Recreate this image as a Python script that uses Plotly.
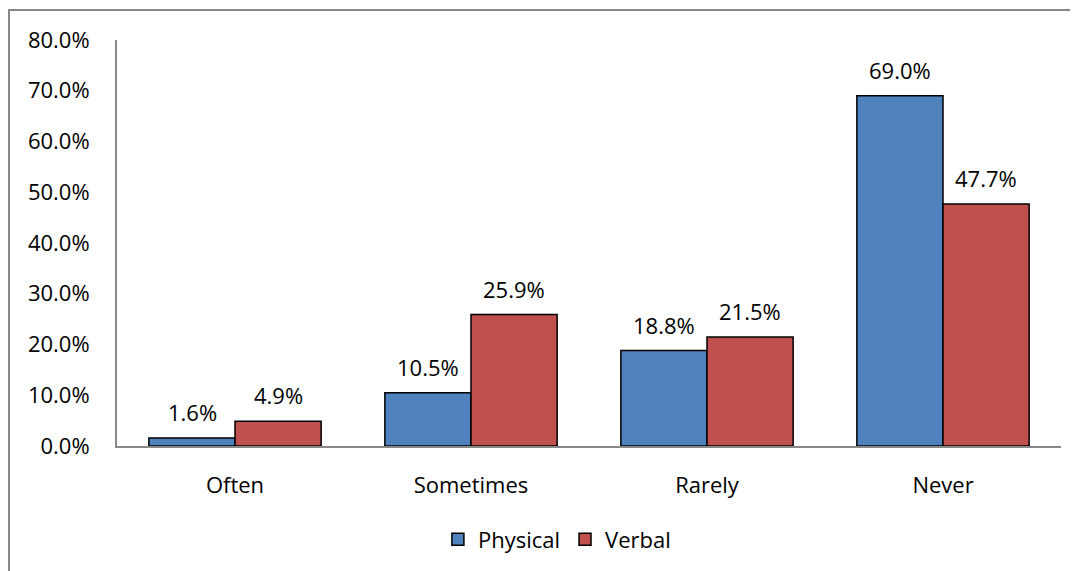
import plotly.graph_objects as go

categories = ["Often", "Sometimes", "Rarely", "Never"]
physical = [1.6, 10.5, 18.8, 69.0]
verbal = [4.9, 25.9, 21.5, 47.7]
tick_vals = [0, 10, 20, 30, 40, 50, 60, 70, 80]
tick_text = [f"{v:.1f}%" for v in tick_vals]

FONT = "Open Sans, sans-serif"
FS = 22

fig = go.Figure()
fig.add_trace(go.Bar(
    name="Physical", x=categories, y=physical,
    marker=dict(color="#4F81BD", line=dict(color="black", width=1.5)),
))
fig.add_trace(go.Bar(
    name="Verbal", x=categories, y=verbal,
    marker=dict(color="#C0504D", line=dict(color="black", width=1.5)),
))

annotations = []
for series, shift in ((physical, -43), (verbal, 43)):
    for cat, v in zip(categories, series):
        annotations.append(dict(
            x=cat, y=v, xref="x", yref="y", text=f"{v:.1f}%", showarrow=False,
            xshift=shift, yshift=9, yanchor="bottom", xanchor="center",
            font=dict(size=FS, color="black", family=FONT),
        ))

fig.update_layout(
    width=1078, height=571,
    margin=dict(l=109, r=25, t=32, b=133, autoexpand=False),
    paper_bgcolor="white", plot_bgcolor="white",
    barmode="group", bargap=0.27, bargroupgap=0,
    font=dict(family=FONT, size=FS, color="black"),
    showlegend=True,
    legend=dict(orientation="h", x=0.466, xanchor="center", y=-0.23, yanchor="middle",
                font=dict(size=FS), traceorder="normal"),
    xaxis=dict(showline=True, linecolor="#888888", linewidth=2, ticks="",
               tickfont=dict(size=FS), showgrid=False, ticklabelstandoff=19),
    yaxis=dict(range=[0, 80], tickvals=tick_vals, ticktext=tick_text,
               showline=True, linecolor="#888888", linewidth=2, ticks="",
               showgrid=False, zeroline=False, tickfont=dict(size=FS), ticklabelstandoff=21),
    annotations=annotations,
    shapes=[dict(type="rect", xref="paper", yref="paper",
                 x0=-0.1144, x1=1.2, y0=-0.5, y1=1.0739,
                 line=dict(color="#888888", width=2), fillcolor="rgba(0,0,0,0)",
                 layer="below")],
)

fig.write_html("out.html")
